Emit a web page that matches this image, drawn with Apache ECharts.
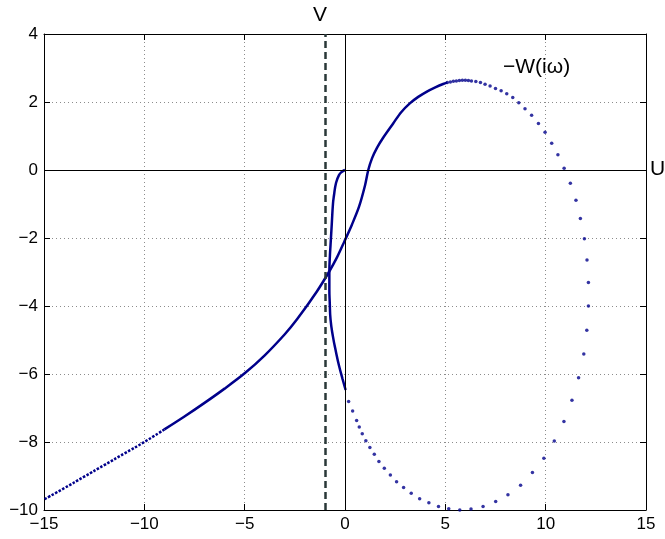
<!DOCTYPE html>
<html>
<head>
<meta charset="utf-8">
<title>-W(iw)</title>
<script src="https://cdn.jsdelivr.net/npm/echarts@6/dist/echarts.min.js"></script>
<style>
html, body { margin: 0; padding: 0; background: #fff; }
#chart { width: 665px; height: 539px; }
</style>
</head>
<body>
<div id="chart"></div>
<script>
// 坐标轴范围和刻度
var xRange = [-15, 15]
var xStep = 5
var yRange = [-10, 4]
var yStep = 2
var vLineX = -1 // 虚线 V

// 从原点往下的内侧分支 (点很密, 看起来像实线)
var innerBranch = [
  [0, 0], [-0.15, -0.05], [-0.3, -0.15], [-0.45, -0.39], [-0.55, -0.75],
  [-0.6, -1.0], [-0.66, -1.6], [-0.72, -2.2], [-0.75, -2.5], [-0.78, -3.0],
  [-0.78, -3.5], [-0.76, -3.9], [-0.72, -4.4], [-0.6, -4.9], [-0.45, -5.35],
  [-0.3, -5.75], [-0.12, -6.15], [0.03, -6.47]
]

// 右侧大圈上稀疏的点
var loopDots = [
  [0.18, -6.81], [0.38, -7.09], [0.58, -7.37], [0.71, -7.56], [0.86, -7.76],
  [1.04, -7.96], [1.24, -8.16], [1.46, -8.36], [1.69, -8.57], [1.96, -8.77],
  [2.26, -8.97], [2.57, -9.17], [2.92, -9.34], [3.30, -9.51], [3.72, -9.67],
  [4.18, -9.79], [4.66, -9.90], [5.17, -9.96], [5.72, -10.0], [6.28, -9.97],
  [6.88, -9.90], [7.51, -9.75], [8.12, -9.55], [8.75, -9.27], [9.34, -8.90],
  [9.91, -8.48], [10.43, -7.97], [10.91, -7.40], [11.31, -6.77], [11.64, -6.11],
  [11.9, -5.41], [12.05, -4.71], [12.13, -4.0], [12.13, -3.31], [12.06, -2.65],
  [11.93, -2.02], [11.73, -1.43], [11.51, -0.89], [11.23, -0.39], [10.92, 0.05],
  [10.61, 0.45], [10.30, 0.79], [9.97, 1.11], [9.64, 1.37], [9.30, 1.61],
  [8.97, 1.80], [8.66, 1.98], [8.36, 2.13], [8.06, 2.24], [7.78, 2.33],
  [7.50, 2.40], [7.23, 2.47], [6.98, 2.52], [6.75, 2.57], [6.52, 2.60],
  [6.30, 2.62], [6.15, 2.63], [6.0, 2.64], [5.85, 2.64], [5.7, 2.63],
  [5.55, 2.62], [5.4, 2.61], [5.25, 2.59], [5.1, 2.57]
]

// 从顶点往左下的外侧分支
var outerBranch = [
  [5.1, 2.57], [4.89, 2.53], [4.5, 2.43], [4.06, 2.30], [3.65, 2.15],
  [3.23, 1.96], [2.8, 1.7], [2.4, 1.37], [1.9, 0.95], [1.6, 0.66],
  [1.35, 0.35], [1.16, 0], [1.0, -0.45], [0.7, -1.08], [0.35, -1.6],
  [-0.03, -2.1], [-0.4, -2.57], [-0.8, -3.0], [-1.41, -3.58], [-2.4, -4.40],
  [-3.0, -4.83], [-4.0, -5.45], [-5.0, -5.98], [-6.0, -6.43], [-7.0, -6.85],
  [-8.0, -7.25], [-9.0, -7.63]
]

// 左下尾部 (点能分辨出来)
var tailDots = [
  [-9.0, -7.63], [-10.0, -8.0], [-11, -8.34], [-12, -8.68], [-13, -9.02],
  [-14, -9.36], [-15, -9.69]
]

var curveColor = '#00008b'
var font = '"Liberation Sans", Arial, sans-serif'

function fmt(v) {
  return String(v).replace('-', '\u2212')
}

var chart = echarts.init(document.getElementById('chart'))

var baseAxis = {
  type: 'value',
  axisLine: { show: true, onZero: false, lineStyle: { color: '#000', width: 1 } },
  axisTick: { show: true, inside: true, length: 6, lineStyle: { color: '#000' } },
}

var option = {
  animation: false,
  backgroundColor: '#fff',
  grid: { left: 44, right: 19, top: 34, bottom: 29, containLabel: false },
  xAxis: [
    Object.assign({}, baseAxis, {
      position: 'bottom',
      min: xRange[0], max: xRange[1], interval: xStep,
      axisLabel: { color: '#000', fontSize: 17, fontFamily: font, margin: 6, formatter: fmt },
      splitLine: { show: true, lineStyle: { color: '#8c8c8c', type: [1, 3], width: 1 } },
    }),
    Object.assign({}, baseAxis, {
      position: 'top',
      min: xRange[0], max: xRange[1], interval: xStep,
      axisLabel: { show: false },
      splitLine: { show: false },
    }),
  ],
  yAxis: [
    Object.assign({}, baseAxis, {
      position: 'left',
      min: yRange[0], max: yRange[1], interval: yStep,
      axisLabel: { color: '#000', fontSize: 17, fontFamily: font, margin: 6, formatter: fmt },
      splitLine: { show: true, lineStyle: { color: '#8c8c8c', type: [1, 3], width: 1 } },
    }),
    Object.assign({}, baseAxis, {
      position: 'right',
      min: yRange[0], max: yRange[1], interval: yStep,
      axisLabel: { show: false },
      splitLine: { show: false },
    }),
  ],
  series: [
    {
      type: 'line',
      data: innerBranch,
      showSymbol: false,
      smooth: true,
      lineStyle: { color: curveColor, width: 2.5 },
      markLine: {
        silent: true,
        symbol: 'none',
        label: { show: false },
        data: [
          { xAxis: 0, lineStyle: { color: '#000', width: 1, type: 'solid' } },
          { yAxis: 0, lineStyle: { color: '#000', width: 1, type: 'solid' } },
          { xAxis: vLineX, lineStyle: { color: '#2a3838', width: 2.5, type: [7, 4] } },
        ],
      },
      z: 3,
    },
    {
      type: 'line',
      data: outerBranch,
      showSymbol: false,
      smooth: 0.3,
      lineStyle: { color: curveColor, width: 2.5 },
      z: 3,
    },
    {
      type: 'line',
      data: tailDots,
      showSymbol: false,
      smooth: true,
      lineStyle: { color: curveColor, width: 2.5, type: [2.5, 1.5] },
      z: 3,
    },
    {
      type: 'scatter',
      data: loopDots,
      symbol: 'circle',
      symbolSize: 3.5,
      itemStyle: { color: curveColor },
      z: 3,
    },
  ],
  graphic: [
    { type: 'text', left: 313, top: 5, style: { text: 'V', font: '21px ' + font, fill: '#000' } },
    { type: 'text', left: 650, top: 159, style: { text: 'U', font: '21px ' + font, fill: '#000' } },
    { type: 'text', left: 503, top: 57, style: { text: '\u2212W(i\u03c9)', font: '21px ' + font, fill: '#000' } },
  ],
}

chart.setOption(option)
window.addEventListener('resize', function () { chart.resize() })
</script>
</body>
</html>
